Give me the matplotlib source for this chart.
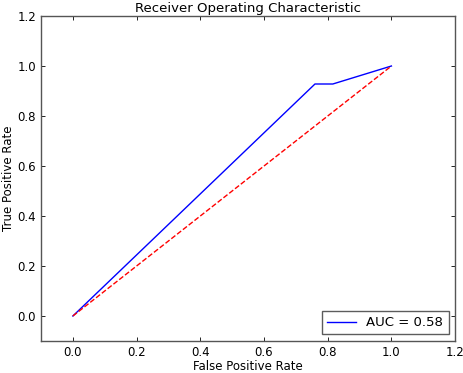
import matplotlib
matplotlib.use('Agg')
import matplotlib.pyplot as plt

# ROC curve points
fpr = [0.0, 0.76, 0.816, 1.0]
tpr = [0.0, 0.928, 0.928, 1.0]
roc_auc = 0.58
diag = [0.0, 1.0]

plt.rcParams['xtick.direction'] = 'in'
plt.rcParams['ytick.direction'] = 'in'
plt.rcParams['font.size'] = 8.5

fig = plt.figure(figsize=(4.63, 3.73), dpi=100)
ax = fig.add_axes([0.0886, 0.0858, 0.8944, 0.8713])

ax.plot(fpr, tpr, 'b', linewidth=1.0, label='AUC = %0.2f' % roc_auc)
ax.plot(diag, diag, 'r--', linewidth=1.0)
ax.set_xlim(-0.1, 1.2)
ax.set_ylim(-0.1, 1.2)
ax.set_xticks([0.0, 0.2, 0.4, 0.6, 0.8, 1.0, 1.2])
ax.set_yticks([0.0, 0.2, 0.4, 0.6, 0.8, 1.0, 1.2])
ax.tick_params(top=True, right=True, length=3, width=0.6, pad=3.5, labelsize=8.5)
for s in ax.spines.values():
    s.set_linewidth(1.0)
    s.set_color('#555555')

ax.set_title('Receiver Operating Characteristic', fontsize=9.5, pad=3)
ax.set_xlabel('False Positive Rate', fontsize=8.5, labelpad=1)
ax.set_ylabel('True Positive Rate', fontsize=8.5, labelpad=1.5)
leg = ax.legend(loc='lower right', fancybox=False, fontsize=9.5, handlelength=2.2, borderpad=0.4)
leg.get_frame().set_edgecolor('#333333')
leg.get_frame().set_linewidth(1.0)

fig.savefig('out.png', dpi=100)
